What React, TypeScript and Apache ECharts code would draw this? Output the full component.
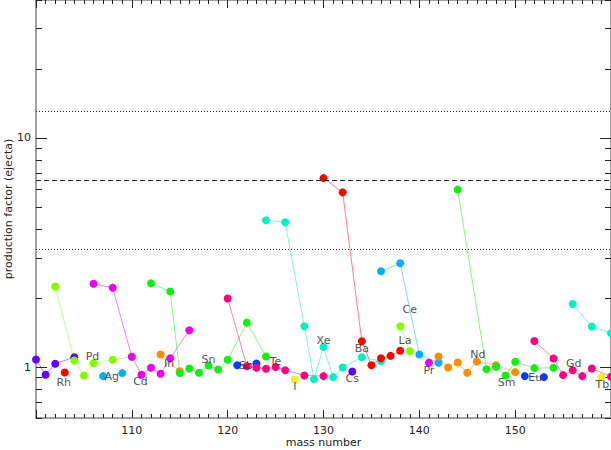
import React, { useEffect, useRef } from "react";
import * as echarts from "echarts";

const elementNames = ["Ru","Rh","Pd","Ag","Cd","In","Sn","Sb","Te","I","Xe","Cs","Ba","La","Ce","Pr","Nd","Sm","Eu","Gd","Tb","Dy"];
const elementColors = ["#6400ff","#ff0000","#7fff00","#00b0ff","#ee00ee","#ff8c00","#10f010","#0a3cff","#ff0080","#f0f020","#00f0c0",
  "#6400ff","#ff0000","#7fff00","#00b0ff","#ee00ee","#ff8c00","#10f010","#0a3cff","#ff0080","#f0f020","#00f0c0"];

const Ru = [[100,1.08],[101,0.927],[102,1.035],[104,1.105]];
const Rh = [[103,0.948]];
const Pd = [[102,2.25],[104,1.069],[105,0.92],[106,1.04],[108,1.077],[110,1.11]];
const Ag = [[107,0.914],[109,0.942]];
const Cd = [[106,2.31],[108,2.22],[110,1.11],[111,0.927],[112,0.994],[113,0.936],[114,1.094],[116,1.45]];
const In = [[113,1.136],[115,0.96]];
const Sn = [[112,2.32],[114,2.14],[115,0.942],[116,0.987],[117,0.945],[118,1.017],[119,0.977],[120,1.077],[122,1.564],[124,1.113]];
const Sb = [[121,1.02],[123,1.038]];
const Te = [[120,1.995],[122,1.01],[123,0.994],[124,0.984],[125,1.0],[126,0.97],[128,0.92],[130,0.914]];
const I = [[127,0.884]];
const Xe = [[124,4.37],[126,4.29],[128,1.507],[129,0.887],[130,1.226],[131,0.905],[132,0.997],[134,1.105],[136,1.062]];
const Cs = [[133,0.958]];
const Ba = [[130,6.68],[132,5.79],[134,1.297],[135,1.02],[136,1.094],[137,1.12],[138,1.18]];
const La = [[138,1.507],[139,1.174]];
const Ce = [[136,2.62],[138,2.84],[140,1.136],[142,1.045]];
const Pr = [[141,1.045]];
const Nd = [[142,1.113],[143,0.997],[144,1.048],[145,0.945],[146,1.059],[148,1.02],[150,0.951]];
const Sm = [[144,5.95],[147,0.98],[148,1.004],[149,0.92],[150,1.055],[152,0.99],[154,0.994]];
const Eu = [[151,0.914],[153,0.905]];
const Gd = [[152,1.30],[154,1.091],[155,0.923],[156,0.97],[157,0.914],[158,0.987],[160,0.908]];
const Tb = [[159,0.905]];
const Dy = [[156,1.886],[158,1.503],[160,1.405]];
const elementData = [Ru,Rh,Pd,Ag,Cd,In,Sn,Sb,Te,I,Xe,Cs,Ba,La,Ce,Pr,Nd,Sm,Eu,Gd,Tb,Dy];

const labelNames = ["Rh","Pd","Ag","Cd","In","Sn","Sb","Te","I","Xe","Cs","Ba","La","Ce","Pr","Nd","Sm","Eu","Gd","Tb"];
const labelMass = [102.9,105.9,107.9,110.9,113.9,118.0,121.9,125.0,127.0,130.0,133.0,134.0,138.5,139.0,141.0,146.1,149.1,152.1,156.1,159.1];
const labelValue = [0.858,1.113,0.911,0.864,1.035,1.08,1.014,1.062,0.827,1.306,0.89,1.206,1.31,1.78,0.97,1.132,0.858,0.9,1.037,0.84];

const refDashed = 6.55;
const refDotted = [13.1, 3.275];

const yMajor = [1, 10];
const yMinor = [0.6,0.7,0.8,0.9,2,3,4,5,6,7,8,9,20,30,40];

const FONT = "DejaVu Sans";
const TICK = "#222";

export default function App() {
  const ref = useRef<HTMLDivElement>(null);
  useEffect(() => {
    if (!ref.current) return;
    const chart = echarts.init(ref.current, null, { renderer: "svg" });
    const axisLine = { show: true, onZero: false, lineStyle: { color: "#808080", width: 1.5 } };
    const yBase = (position: string, len: number, values: number[], withLine: boolean, withLabel: boolean) => ({
      type: "log",
      min: 0.6,
      max: 40,
      position,
      axisLine: withLine ? axisLine : { show: false, onZero: false },
      splitLine: { show: false },
      axisTick: { show: true, inside: true, length: len, customValues: values, lineStyle: { color: TICK, width: 1 } },
      axisLabel: withLabel
        ? { show: true, customValues: yMajor, color: "#222", fontFamily: FONT, fontSize: 11, margin: 5 }
        : { show: false, customValues: values },
      name: withLabel ? "production factor (ejecta)" : "",
      nameLocation: "middle",
      nameGap: 22,
      nameMoveOverlap: false,
      nameTextStyle: { color: "#222", fontFamily: FONT, fontSize: 11 },
    });
    const xBase = (position: string, withLabel: boolean) => ({
      type: "value",
      min: 100,
      max: 160,
      interval: 10,
      position,
      axisLine,
      splitLine: { show: false },
      axisTick: { show: true, inside: true, length: 8, lineStyle: { color: TICK, width: 1 } },
      minorTick: { show: true, splitNumber: 10, length: 4, lineStyle: { color: TICK, width: 1 } },
      minorSplitLine: { show: false },
      axisLabel: withLabel
        ? { show: true, showMinLabel: false, showMaxLabel: false, color: "#222", fontFamily: FONT, fontSize: 11, margin: 7 }
        : { show: false },
      name: withLabel ? "mass number" : "",
      nameLocation: "middle",
      nameGap: 19,
      nameMoveOverlap: false,
      nameTextStyle: { color: "#222", fontFamily: FONT, fontSize: 11 },
    });

    const series: any[] = elementData.map((d, i) => ({
      type: "line",
      name: elementNames[i],
      xAxisIndex: 0,
      yAxisIndex: 0,
      data: d,
      symbol: "circle",
      symbolSize: 8,
      showSymbol: true,
      itemStyle: { color: elementColors[i] },
      lineStyle: { color: elementColors[i], width: 1, opacity: 0.5 },
      z: 3,
    }));

    series.push({
      type: "scatter",
      xAxisIndex: 0,
      yAxisIndex: 0,
      data: labelNames.map((n, i) => ({ name: n, value: [labelMass[i], labelValue[i]] })),
      symbolSize: 0,
      label: { show: true, position: "inside", formatter: "{b}", color: "#222", fontFamily: FONT, fontSize: 11 },
      z: 4,
      silent: true,
    });

    series.push({
      type: "line",
      xAxisIndex: 0,
      yAxisIndex: 0,
      data: [],
      markLine: {
        silent: true,
        symbol: "none",
        label: { show: false },
        data: [
          { yAxis: refDashed, lineStyle: { type: [5, 3], color: "#222", width: 1 } },
          ...refDotted.map((v) => ({ yAxis: v, lineStyle: { type: [1, 2], color: "#222", width: 1 } })),
        ],
      },
      z: 2,
    });

    chart.setOption({
      animation: false,
      backgroundColor: "#ffffff",
      grid: { left: 36, right: 0, top: 0, bottom: 32, containLabel: false, outerBoundsMode: "none" },
      xAxis: [xBase("bottom", true), xBase("top", false)],
      yAxis: [
        yBase("left", 11, yMajor, true, true),
        yBase("left", 6, yMinor, false, false),
        yBase("right", 11, yMajor, true, false),
        yBase("right", 6, yMinor, false, false),
      ],
      series,
    });
    return () => chart.dispose();
  }, []);
  return <div ref={ref} style={{ width: 611, height: 450, position: "absolute", left: 0, top: 0 }} />;
}
